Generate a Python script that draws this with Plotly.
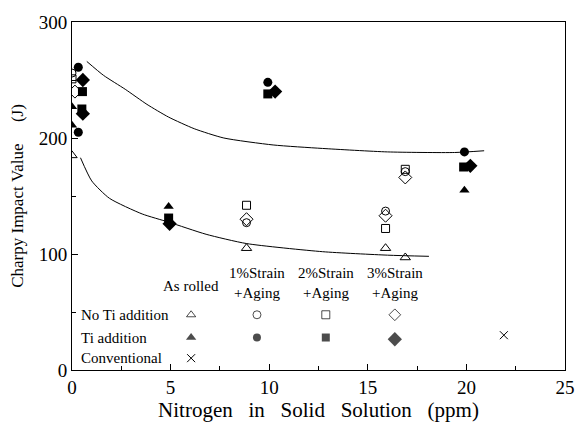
import plotly.graph_objects as go

# ---- data ----
# No Ti addition (open markers)
noti_rolled_x = [0.0, 8.85, 15.9, 16.9]
noti_rolled_y = [185, 105, 105, 97]
noti_s1_x = [0.0, 8.85, 15.9, 16.9]
noti_s1_y = [256, 127, 137, 171]
noti_s2_x = [0.0, 8.85, 15.9, 16.9]
noti_s2_y = [251, 142, 122, 173]
noti_s3_x = [0.15, 8.85, 15.9, 16.9]
noti_s3_y = [240, 130, 133, 166]
# Ti addition (filled markers)
ti_rolled_x = [0.0, 0.0, 4.9, 19.9]
ti_rolled_y = [227, 211, 141, 155]
ti_s1_x = [0.32, 0.32, 9.93, 19.9]
ti_s1_y = [261, 205, 248, 188]
ti_s2_x = [0.53, 0.5, 4.9, 9.93, 19.86]
ti_s2_y = [240, 225, 131, 238, 175]
ti_s3_x = [0.55, 0.55, 4.95, 10.3, 20.2]
ti_s3_y = [250, 221, 126, 240, 176]
# Conventional
conv_x = [21.9]
conv_y = [30]
# fitted curves
upper_x = [0.75, 1.6, 2.7, 3.8, 4.9, 6.2, 7.7, 10.2, 12.7, 16.0, 19.4, 20.9]
upper_y = [266, 254, 242, 229, 218, 208, 200, 194, 191, 188, 187.5, 189]
lower_x = [0.43, 1.0, 1.9, 3.56, 4.9, 6.8, 8.85, 12.7, 16.0, 18.1]
lower_y = [183, 163, 148, 134.5, 127.5, 117, 109, 102, 99, 98]

# legend key (in-plot) positions
key_cols = [6.04, 9.38, 12.87, 16.37]
key_rows = [47.6, 28.0, 10.2]

FONT = "Liberation Serif"
NB = "\u00a0"
fig = go.Figure()

def add_line(x, y):
    fig.add_trace(go.Scatter(x=x, y=y, mode="lines",
                             line=dict(color="black", width=1, shape="spline", smoothing=0.6),
                             hoverinfo="skip"))

add_line(upper_x, upper_y)
add_line(lower_x, lower_y)

def add_pts(x, y, symbol, size, lw=1):
    fig.add_trace(go.Scatter(x=x, y=y, mode="markers",
                             marker=dict(symbol=symbol, size=size, color="black",
                                         line=dict(color="black", width=lw))))

add_pts(noti_rolled_x, noti_rolled_y, "triangle-up-open", 9)
add_pts(noti_s1_x, noti_s1_y, "circle-open", 8)
add_pts(noti_s2_x, noti_s2_y, "square-open", 8)
add_pts(noti_s3_x, noti_s3_y, "diamond-open", 10)
add_pts(ti_rolled_x, ti_rolled_y, "triangle-up", 9, 0)
add_pts(ti_s1_x, ti_s1_y, "circle", 9, 0)
add_pts(ti_s2_x, ti_s2_y, "square", 9, 0)
add_pts(ti_s3_x, ti_s3_y, "diamond", 11, 0)
add_pts(conv_x, conv_y, "x-thin-open", 8)

# in-plot key markers
open_syms = ["triangle-up-open", "circle-open", "square-open", "diamond-open"]
fill_syms = ["triangle-up", "circle", "square", "diamond"]
open_sizes = [8, 8, 8, 9]
fill_sizes = [9, 8, 8, 11]
fig.add_trace(go.Scatter(x=key_cols, y=[key_rows[0]] * 4, mode="markers",
                         marker=dict(symbol=open_syms, size=open_sizes, color="black",
                                     line=dict(color="black", width=1))))
fig.add_trace(go.Scatter(x=key_cols, y=[key_rows[1], key_rows[1], key_rows[1], key_rows[1] - 1.5],
                         mode="markers",
                         marker=dict(symbol=fill_syms, size=fill_sizes, color="black", line=dict(width=0))))
add_pts([key_cols[0]], [key_rows[2]], "x-thin-open", 8)

ann_font = dict(family=FONT, size=15, color="black")
annotations = []
annotations.append(dict(x=key_cols[0], y=72, text="As rolled", showarrow=False, font=ann_font,
                        xanchor="center", yanchor="middle"))
for i, lbl in enumerate(["1%Strain", "2%Strain", "3%Strain"]):
    annotations.append(dict(x=key_cols[i + 1], y=75, text=lbl + "<br>+Aging", showarrow=False, font=ann_font,
                            xanchor="center", yanchor="middle"))
for txt, yy in zip(["No Ti addition", "Ti addition", "Conventional"], key_rows):
    annotations.append(dict(x=0.35, y=yy, text=txt, showarrow=False, font=ann_font,
                            xanchor="left", yanchor="middle"))

gap = NB * 2 + " "
xtitle = gap.join(["Nitrogen", "in", "Solid", "Solution", "(ppm)"])
ytitle = "Charpy" + NB + "Impact" + NB + "Value" + NB * 4 + " (J)"

fig.update_layout(
    width=587, height=438,
    margin=dict(l=72, r=15, t=17, b=68),
    paper_bgcolor="white", plot_bgcolor="white",
    showlegend=False,
    font=dict(family=FONT, color="black"),
    annotations=annotations,
    xaxis=dict(range=[0, 25], tickvals=[0, 5, 10, 15, 20, 25], ticks="inside", ticklen=6, tickcolor="black",
               minor=dict(tickvals=[2.5, 7.5, 12.5, 17.5, 22.5], ticks="inside", ticklen=4, tickcolor="black"),
               showgrid=False, zeroline=False, showline=True, linecolor="black", linewidth=1, mirror=True,
               tickfont=dict(family=FONT, size=19),
               title=dict(text=xtitle, font=dict(family=FONT, size=21), standoff=4)),
    yaxis=dict(range=[0, 300], tickvals=[0, 100, 200, 300], ticks="inside", ticklen=6, tickcolor="black",
               minor=dict(tickvals=[50, 150, 250], ticks="inside", ticklen=4, tickcolor="black"),
               showgrid=False, zeroline=False, showline=True, linecolor="black", linewidth=1, mirror=True,
               tickfont=dict(family=FONT, size=19),
               title=dict(text=ytitle, font=dict(family=FONT, size=17), standoff=10)),
)

fig.write_html("out.html")
